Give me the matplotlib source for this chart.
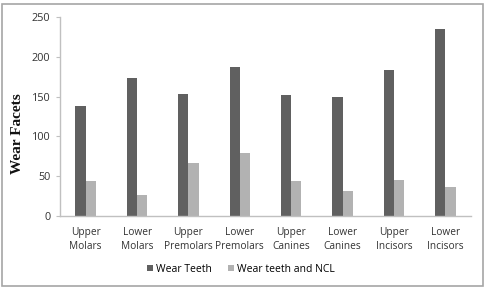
import matplotlib
matplotlib.use("Agg")
import matplotlib.pyplot as plt
import numpy as np
from matplotlib.patches import Rectangle

categories = ["Upper\nMolars", "Lower\nMolars", "Upper\nPremolars", "Lower\nPremolars",
              "Upper\nCanines", "Lower\nCanines", "Upper\nIncisors", "Lower\nIncisors"]
wear_teeth = [138, 173, 153, 187, 152, 149, 183, 235]
wear_ncl = [44, 27, 66, 79, 44, 32, 45, 37]
series_names = ["Wear Teeth", "Wear teeth and NCL"]
yticks = [0, 50, 100, 150, 200, 250]

W, H = 487, 288
fig = plt.figure(figsize=(W / 100, H / 100), dpi=100)
fig.patch.set_facecolor("white")
fig.patches.append(Rectangle((1.5 / W, 2 / H), 481 / W, 282 / H, transform=fig.transFigure,
                             fill=False, edgecolor="#a6a6a6", linewidth=1.2))

ax = fig.add_axes([60 / W, (H - 216) / H, (471 - 60) / W, (216 - 17) / H])
x = np.arange(len(categories))
bw = 0.2
dark = "#606060"
light = "#b2b2b2"
b1 = ax.bar(x - bw / 2, wear_teeth, bw, color=dark, label=series_names[0])
b2 = ax.bar(x + bw / 2, wear_ncl, bw, color=light, label=series_names[1])

ax.set_xlim(-0.5, len(categories) - 0.5)
ax.set_ylim(0, 250)
ax.set_yticks(yticks)
ax.set_xticks(x)
xfont = dict(family="Open Sans", size=7.3, color="#333333")
yfont = dict(family="Open Sans", size=7.8, color="#333333")
ax.set_xticklabels(categories, fontdict=xfont, linespacing=1.3)
ax.set_yticklabels([str(v) for v in yticks], fontdict=yfont)
for s in ["top", "right"]:
    ax.spines[s].set_visible(False)
for s in ["left", "bottom"]:
    ax.spines[s].set_color("#c0c0c0")
    ax.spines[s].set_linewidth(1.0)
ax.tick_params(axis="x", length=0, pad=8)
ax.tick_params(axis="y", length=3, color="#c0c0c0", pad=4)

fig.text(18 / W, 1 - 134 / H, "Wear Facets", family="Liberation Serif", fontweight="bold",
         fontsize=11, rotation=90, ha="center", va="center", color="#111111")

fig.legend(handles=[b1, b2], labels=series_names, loc="center", bbox_to_anchor=(241 / W, 1 - 269 / H),
           ncol=2, frameon=False, prop=dict(family="Open Sans", size=7.5),
           handlelength=0.6, handleheight=0.6, handletextpad=0.3, columnspacing=1.5)

fig.savefig("out.png", dpi=100)
